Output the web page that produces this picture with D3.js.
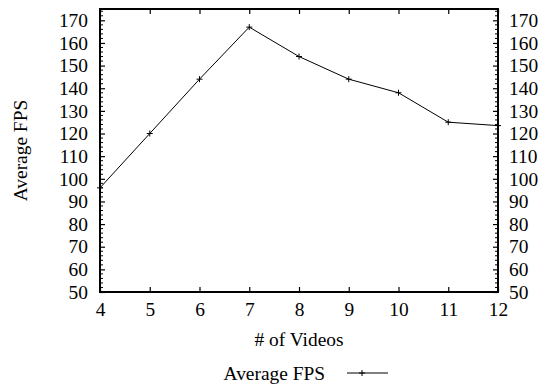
<!DOCTYPE html>
<html>
<head>
<meta charset="utf-8">
<script src="https://cdn.jsdelivr.net/npm/d3@7"></script>
<style>
  html, body { margin: 0; padding: 0; background: #fff; }
  svg { display: block; }
  svg text { font-family: "Liberation Serif", "Times New Roman", serif; fill: #000; }
</style>
</head>
<body>
<svg id="chart" width="545" height="389"></svg>
<script>
// Number of concurrent videos and the measured average frame rate
const videoCounts = [4, 5, 6, 7, 8, 9, 10, 11, 12];
const avgFps = [96, 120, 144, 167, 154, 144, 138, 125, 123.5];
const yTicks = [50, 60, 70, 80, 90, 100, 110, 120, 130, 140, 150, 160, 170];
const xTicks = [4, 5, 6, 7, 8, 9, 10, 11, 12];
const seriesName = "Average FPS";
const xTitle = "# of Videos";
const yTitle = "Average FPS";

const svg = d3.select("#chart");
const m = { left: 100, right: 47, top: 9, bottom: 97 };
const W = 545, H = 389;
const x = d3.scaleLinear().domain([4, 12]).range([m.left, W - m.right]);
const y = d3.scaleLinear().domain([50, 175]).range([H - m.bottom, m.top]);

const serif = '"Liberation Serif", "Times New Roman", serif';
const fontSize = 19.4;
const majorLen = 5, minorLen = 3;

const g = svg.append("g");

// minor ticks on both y axes (every 2 units)
const minor = d3.range(52, 175, 2).filter(v => v % 10 !== 0);
g.selectAll("line.minorL").data(minor).join("line")
  .attr("x1", x(4)).attr("x2", x(4) + minorLen)
  .attr("y1", d => y(d)).attr("y2", d => y(d))
  .attr("stroke", "#000").attr("stroke-width", 1);
g.selectAll("line.minorR").data(minor).join("line")
  .attr("x1", x(12)).attr("x2", x(12) - minorLen)
  .attr("y1", d => y(d)).attr("y2", d => y(d))
  .attr("stroke", "#000").attr("stroke-width", 1);

// left y axis (ticks pointing inward)
const yLeft = d3.axisLeft(y).tickValues(yTicks).tickSize(-majorLen).tickPadding(12).tickFormat(d3.format("d"));
const yl = g.append("g").attr("transform", `translate(${x(4)},0)`).call(yLeft);
// right y axis
const yRight = d3.axisRight(y).tickValues(yTicks).tickSize(-majorLen).tickPadding(11).tickFormat(d3.format("d"));
const yr = g.append("g").attr("transform", `translate(${x(12)},0)`).call(yRight);
// bottom x axis
const xBottom = d3.axisBottom(x).tickValues(xTicks).tickSize(-majorLen).tickPadding(10).tickFormat(d3.format("d"));
const xb = g.append("g").attr("transform", `translate(0,${y(50)})`).call(xBottom);
// top mirror ticks
const xTop = d3.axisTop(x).tickValues(xTicks).tickSize(-majorLen).tickFormat("");
const xt = g.append("g").attr("transform", `translate(0,${y(175)})`).call(xTop);

[yl, yr, xb, xt].forEach(a => {
  a.attr("font-family", serif).attr("font-size", fontSize);
  a.select(".domain").remove();
  a.selectAll(".tick line").attr("stroke", "#000").attr("stroke-width", 1.2);
  a.selectAll(".tick text").attr("fill", "#000");
});

// frame
g.append("rect")
  .attr("x", x(4)).attr("y", y(175))
  .attr("width", x(12) - x(4)).attr("height", y(50) - y(175))
  .attr("fill", "none").attr("stroke", "#000").attr("stroke-width", 2);

// data line
const pts = videoCounts.map((v, i) => [v, avgFps[i]]);
g.append("path").datum(pts)
  .attr("fill", "none").attr("stroke", "#000").attr("stroke-width", 1)
  .attr("d", d3.line().x(d => x(d[0])).y(d => y(d[1])));

// plus markers
const plus = (sel, cx, cy, r) => {
  sel.append("line").attr("x1", cx - r).attr("x2", cx + r).attr("y1", cy).attr("y2", cy)
    .attr("stroke", "#000").attr("stroke-width", 1);
  sel.append("line").attr("x1", cx).attr("x2", cx).attr("y1", cy - r).attr("y2", cy + r)
    .attr("stroke", "#000").attr("stroke-width", 1);
};
const mk = g.append("g");
pts.forEach(d => plus(mk, x(d[0]), y(d[1]), 3));

// axis titles
svg.append("text")
  .attr("x", (x(4) + x(12)) / 2 + 0).attr("y", 346)
  .attr("text-anchor", "middle").attr("font-size", fontSize).attr("font-family", serif)
  .text(xTitle);
svg.append("text")
  .attr("transform", `translate(27,${(y(50) + y(175)) / 2}) rotate(-90)`)
  .attr("text-anchor", "middle").attr("font-size", fontSize).attr("font-family", serif)
  .text(yTitle);

// legend
const lg = svg.append("g");
lg.append("text").attr("x", 325).attr("y", 380).attr("text-anchor", "end")
  .attr("font-size", fontSize).attr("font-family", serif).text(seriesName);
lg.append("line").attr("x1", 347).attr("x2", 388).attr("y1", 373).attr("y2", 373)
  .attr("stroke", "#000").attr("stroke-width", 1);
plus(lg, 362, 373, 3);
</script>
</body>
</html>
